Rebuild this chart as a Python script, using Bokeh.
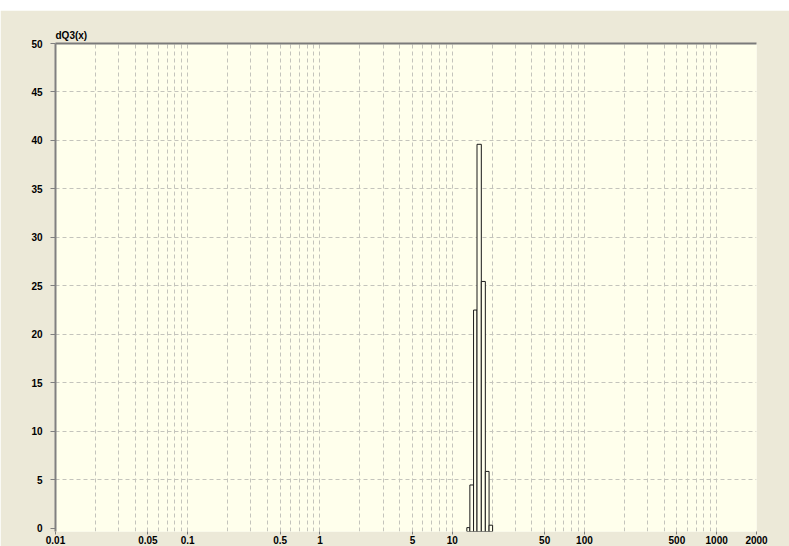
from bokeh.plotting import figure
from bokeh.models import Range1d, FixedTicker, LinearAxis, Spacer
from bokeh.layouts import column
from bokeh.embed import file_html
from bokeh.resources import INLINE

# ---- data ----
bin_left = [12.9, 13.6, 14.5, 15.4, 16.6, 17.8, 19.0]
bin_right = [13.6, 14.5, 15.4, 16.6, 17.8, 19.0, 20.2]
dq3 = [0.05, 4.45, 22.5, 39.6, 25.45, 5.85, 0.3]

x_ticks = [0.01, 0.05, 0.1, 0.5, 1, 5, 10, 50, 100, 500, 1000, 2000]
x_tick_labels = ["0.01", "0.05", "0.1", "0.5", "1", "5", "10", "50", "100", "500", "1000", "2000"]
y_ticks = [0, 5, 10, 15, 20, 25, 30, 35, 40, 45, 50]
y_tick_labels = ["0", "5", "10", "15", "20", "25", "30", "35", "40", "45", "50"]

X_MIN, X_MAX = 0.01, 2000
Y_MIN, Y_MAX = -0.35, 50

OUTER_BG = "#ECE9D8"
PLOT_BG = "#FFFFEC"
GRID = "#C4C4BC"
FONT = "Liberation Sans"

# gridline positions: every k*10^n inside the range
grid_x = []
for e in range(-2, 4):
    for k in range(1, 10):
        v = round(k * 10 ** e, 6)
        if X_MIN < v < X_MAX:
            grid_x.append(v)

p = figure(width=789, height=536, x_axis_type="log",
           x_range=Range1d(X_MIN, X_MAX), y_range=Range1d(Y_MIN, Y_MAX),
           output_backend="svg", toolbar_location=None,
           min_border_left=55, min_border_right=33, min_border_top=33, min_border_bottom=0)

p.background_fill_color = PLOT_BG
p.border_fill_color = OUTER_BG
p.outline_line_color = None

p.title.text = "dQ3(x)"
p.title.align = "left"
p.title.text_font = FONT
p.title.text_font_size = "10px"
p.title.text_font_style = "bold"
p.title.text_color = "#000000"
p.title.standoff = 6

# bars
p.quad(left=bin_left, right=bin_right, top=dq3, bottom=Y_MIN,
       fill_color=PLOT_BG, line_color="#1a1a1a", line_width=1)

# x axis
xa = p.xaxis[0]
xa.ticker = FixedTicker(ticks=x_ticks, minor_ticks=[])
xa.major_label_overrides = {t: l for t, l in zip(x_ticks, x_tick_labels)}
xa.major_label_text_align = "left"
xa.major_label_text_font = FONT
xa.major_label_text_font_size = "10px"
xa.major_label_text_font_style = "bold"
xa.major_label_text_color = "#000000"
xa.major_label_standoff = 1
xa.major_tick_in = 0
xa.major_tick_out = 3
xa.minor_tick_in = 0
xa.minor_tick_out = 0
xa.axis_line_color = None
xa.major_tick_line_color = "#808080"

# y axis
ya = p.yaxis[0]
ya.ticker = FixedTicker(ticks=y_ticks, minor_ticks=[])
ya.major_label_overrides = {t: l for t, l in zip(y_ticks, y_tick_labels)}
ya.major_label_text_font = FONT
ya.major_label_text_font_size = "10px"
ya.major_label_text_font_style = "bold"
ya.major_label_text_color = "#000000"
ya.major_label_standoff = 8
ya.major_tick_in = 0
ya.major_tick_out = 5
ya.minor_tick_in = 0
ya.minor_tick_out = 0
ya.axis_line_color = "#808080"
ya.axis_line_width = 2
ya.major_tick_line_color = "#808080"

# top border line
top = LinearAxis(ticker=FixedTicker(ticks=[]), major_label_text_font_size="0px",
                 major_tick_out=0, major_tick_in=0, minor_tick_out=0, minor_tick_in=0,
                 axis_line_color="#7a7a7a", axis_line_width=2, major_label_standoff=0)
p.add_layout(top, "above")

# grids
p.xgrid.ticker = FixedTicker(ticks=grid_x)
p.xgrid.grid_line_color = GRID
p.xgrid.grid_line_dash = "4 3"
p.xgrid.grid_line_width = 1
p.ygrid.ticker = FixedTicker(ticks=[t for t in y_ticks if 0 < t < Y_MAX])
p.ygrid.grid_line_color = GRID
p.ygrid.grid_line_dash = "4 3"
p.ygrid.grid_line_width = 1

layout = column(Spacer(width=789, height=10), p, spacing=0)

open("out.html", "w").write(file_html(layout, INLINE))
